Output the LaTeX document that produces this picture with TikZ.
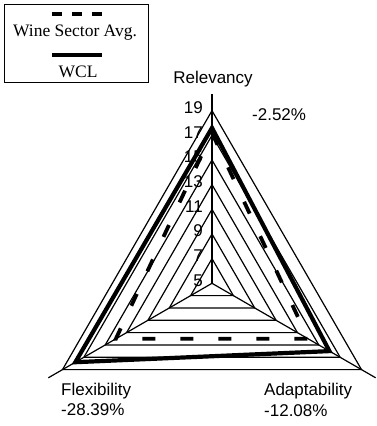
\documentclass[tikz,border=0pt]{standalone}
\usepackage{fontspec}
\setmainfont{Liberation Serif}
\setsansfont{Liberation Sans}
\usepackage{xcolor}
\definecolor{colorg}{RGB}{0,0,0}
\definecolor{colors}{RGB}{0,0,0}
\usetikzlibrary{calc}
\tikzstyle{gridTri} = [draw=colorg, line width=1.2pt, line join=miter]
\tikzstyle{seriesAvg} = [draw=colors, line width=3.8pt, dash pattern=on 13pt off 25pt]
\tikzstyle{seriesWCL} = [draw=colors, line width=4.2pt, line join=miter]
\tikzstyle{axisText} = [font=\sffamily\fontsize{17}{20}\selectfont, inner sep=0pt]
\tikzstyle{tickText} = [font=\sffamily\fontsize{17}{20}\selectfont, anchor=east, inner sep=0pt]
\tikzstyle{keyText} = [font=\rmfamily\fontsize{17.5}{20}\selectfont, inner sep=0pt]
\begin{document}
\begin{tikzpicture}[x=1pt,y=-1pt]
  \useasboundingbox (0,0) rectangle (377,426);
  \coordinate (c) at (212,283.3);

  % grid triangles and axes
  \foreach \v in {7,9,...,19} {
    \pgfmathsetmacro{\rr}{(\v-5)*12.33}
    \draw[gridTri] ($(c)+(-90:\rr)$) -- ($(c)+(30:\rr)$) -- ($(c)+(150:\rr)$) -- cycle;
  }
  \foreach \a in {-90,30,150}
  \draw[gridTri] (c) -- ($(c)+(\a:189)$);

  \foreach \v in {5,7,...,19} {
    \pgfmathsetmacro{\ty}{283.3-(\v-5)*12.33-3}
    \node[tickText] (tick\v) at (203,\ty) {\v};
  }

  % series
  \draw[seriesAvg] ($(c)+(-90:150.4)$) -- ($(c)+(30:111)$) -- ($(c)+(150:111)$) -- cycle;
  \draw[seriesWCL] ($(c)+(-90:155.4)$) -- ($(c)+(30:135.6)$) -- ($(c)+(150:157.8)$) -- cycle;

  \node[axisText, anchor=base] (rel) at (213,83.5) {Relevancy};
  \node[axisText, anchor=base west] (relpct) at (252,120.5) {-2.52\%};
  \node[axisText, anchor=base west] (flex) at (61,395) {Flexibility};
  \node[axisText, anchor=base west] (flexpct) at (61,415.5) {-28.39\%};
  \node[axisText, anchor=base west] (adapt) at (264,395) {Adaptability};
  \node[axisText, anchor=base west] (adaptpct) at (264,416) {-12.08\%};

  % legend
  \node[draw=colorg, line width=1pt, minimum width=144pt, minimum height=78pt, inner sep=0pt] (legend) at (76,43.5) {};
  \draw[colors, line width=4pt, dash pattern=on 10pt off 10pt] (52,14) -- (102,14);
  \node[keyText, anchor=base] (avgkey) at (75,36.7) {Wine Sector Avg.};
  \draw[colors, line width=4pt] (52,55) -- (102,55);
  \node[keyText, anchor=base] (wclkey) at (78,77.3) {WCL};
\end{tikzpicture}
\end{document}
